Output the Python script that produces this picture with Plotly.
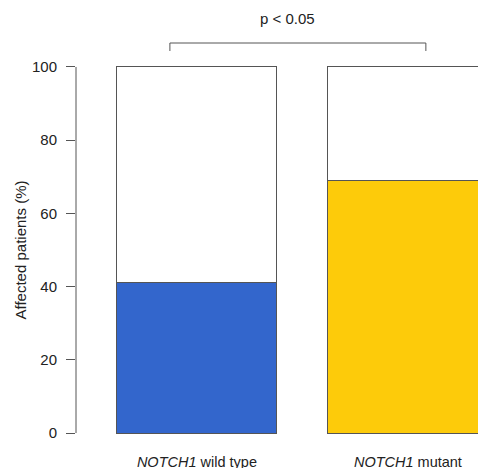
import plotly.graph_objects as go

categories = ["<i>NOTCH1</i> wild type", "<i>NOTCH1</i> mutant"]
affected = [41, 69]
unaffected = [59, 31]
y_ticks = [0, 20, 40, 60, 80, 100]
p_label = "p < 0.05"
bracket_x = [-0.128, 1.085]

xpos = [0, 1]
fig = go.Figure()
fig.add_trace(go.Bar(x=xpos, y=affected, width=0.758,
                     marker=dict(color=["#3366cc", "#fdcb0a"], line=dict(color="#555555", width=1)),
                     showlegend=False, hoverinfo="skip"))
fig.add_trace(go.Bar(x=xpos, y=unaffected, width=0.758,
                     marker=dict(color="white", line=dict(color="#555555", width=1)),
                     showlegend=False, hoverinfo="skip"))

# the page body adds an 8px margin, so the figure is 8px smaller than the window
fig.update_layout(
    barmode="stack",
    width=478, height=460,
    margin=dict(l=68, r=0, t=52, b=28),
    paper_bgcolor="white", plot_bgcolor="white",
    font=dict(family="Liberation Sans, Arial, sans-serif", size=15, color="#222222"),
    xaxis=dict(range=[-0.573, 1.370], tickvals=xpos, ticktext=categories,
               showline=False, showgrid=False, zeroline=False, automargin=False,
               ticks="outside", ticklen=0, ticklabelstandoff=9,
               tickfont=dict(size=14.5)),
    yaxis=dict(range=[-1.9, 101.9], tickvals=y_ticks, showgrid=False, zeroline=False,
               showline=False, ticks="outside", ticklen=9, tickcolor="#555555",
               automargin=False, ticklabelstandoff=6, tickfont=dict(size=15),
               title=dict(text="Affected patients (%)", font=dict(size=15), standoff=1)),
)

# detached y axis line spanning 0..100
fig.add_shape(type="line", xref="paper", yref="y", x0=0, x1=0, y0=y_ticks[0], y1=y_ticks[-1],
              line=dict(color="#555555", width=1))

# significance bracket
fig.add_shape(type="path", xref="x", yref="paper",
              path=f"M {bracket_x[0]},1.0237 L {bracket_x[0]},1.0447 L {bracket_x[1]},1.0447 L {bracket_x[1]},1.0237",
              line=dict(color="#555555", width=1))
fig.add_annotation(x=sum(bracket_x) / 2 - 0.047, y=1.11, xref="x", yref="paper",
                   yanchor="middle", xanchor="center",
                   text=p_label, showarrow=False, font=dict(size=15, color="#222222"))

fig.write_html("out.html")
